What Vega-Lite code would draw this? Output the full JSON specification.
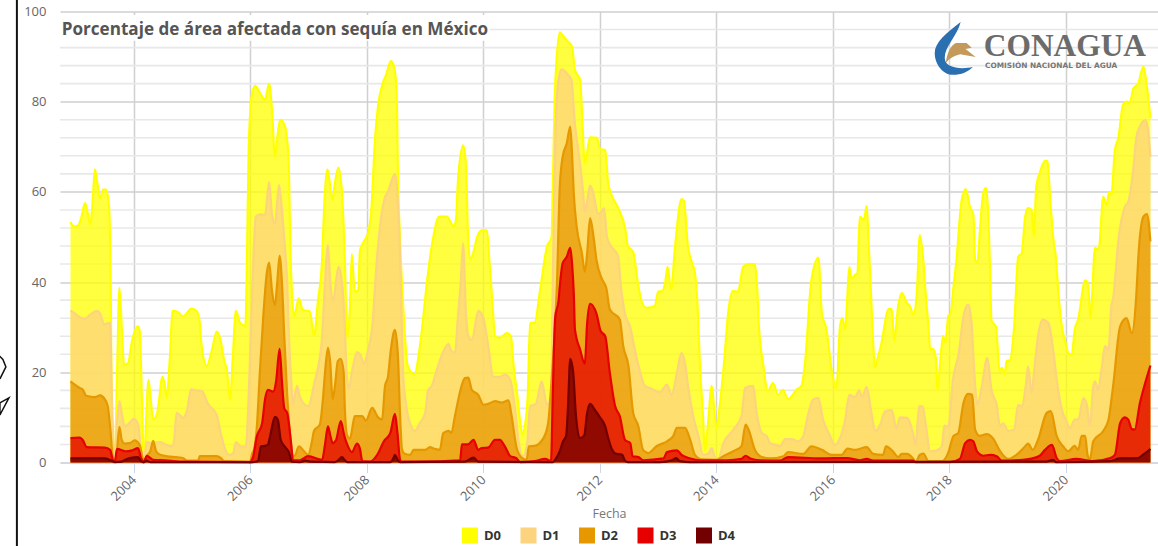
{"$schema":"https://vega.github.io/schema/vega-lite/v6.json","width":1098,"height":451,"autosize":{"type":"none"},"padding":{"left":60,"top":11.5,"right":0,"bottom":83.5},"background":"white","config":{"view":{"stroke":null},"font":"Open Sans"},
"datasets":{
"minor":[{"p":4},{"p":8},{"p":12},{"p":16},{"p":24},{"p":28},{"p":32},{"p":36},{"p":44},{"p":48},{"p":52},{"p":56},{"p":64},{"p":68},{"p":72},{"p":76},{"p":84},{"p":88},{"p":92},{"p":96}],
"D0":[{"f":2002.91,"p":53.3},{"f":2002.97,"p":52.3},{"f":2003.04,"p":52.5},{"f":2003.09,"p":54},{"f":2003.16,"p":57.5},{"f":2003.21,"p":55},{"f":2003.25,"p":52.8},{"f":2003.28,"p":56},{"f":2003.33,"p":65},{"f":2003.37,"p":62},{"f":2003.42,"p":58.5},{"f":2003.47,"p":60.5},{"f":2003.52,"p":60.5},{"f":2003.57,"p":57},{"f":2003.6,"p":40},{"f":2003.62,"p":10},{"f":2003.67,"p":0.8},{"f":2003.71,"p":20},{"f":2003.75,"p":38.7},{"f":2003.79,"p":30},{"f":2003.83,"p":21.7},{"f":2003.9,"p":22},{"f":2003.96,"p":26.5},{"f":2004.07,"p":30.2},{"f":2004.1,"p":29},{"f":2004.14,"p":12},{"f":2004.17,"p":0.5},{"f":2004.25,"p":18.3},{"f":2004.28,"p":15},{"f":2004.33,"p":9.5},{"f":2004.4,"p":11},{"f":2004.49,"p":19},{"f":2004.53,"p":17},{"f":2004.56,"p":14.3},{"f":2004.62,"p":24},{"f":2004.66,"p":33.6},{"f":2004.76,"p":33.3},{"f":2004.84,"p":32.4},{"f":2004.99,"p":34.1},{"f":2005.08,"p":33.5},{"f":2005.13,"p":31},{"f":2005.16,"p":26},{"f":2005.25,"p":21.4},{"f":2005.34,"p":25},{"f":2005.42,"p":29},{"f":2005.48,"p":27.5},{"f":2005.56,"p":22},{"f":2005.59,"p":21},{"f":2005.65,"p":13.8},{"f":2005.7,"p":24},{"f":2005.75,"p":33.6},{"f":2005.82,"p":31},{"f":2005.91,"p":30.3},{"f":2005.92,"p":32},{"f":2005.94,"p":45},{"f":2005.97,"p":70},{"f":2006.03,"p":82},{"f":2006.08,"p":83.5},{"f":2006.16,"p":82},{"f":2006.25,"p":80.4},{"f":2006.32,"p":84},{"f":2006.37,"p":78},{"f":2006.42,"p":67.8},{"f":2006.47,"p":73},{"f":2006.51,"p":76},{"f":2006.58,"p":75},{"f":2006.63,"p":71.5},{"f":2006.66,"p":65},{"f":2006.68,"p":50},{"f":2006.71,"p":38},{"f":2006.75,"p":32.4},{"f":2006.83,"p":36.4},{"f":2006.9,"p":33.8},{"f":2007.02,"p":33.5},{"f":2007.09,"p":28.1},{"f":2007.16,"p":36},{"f":2007.23,"p":45},{"f":2007.26,"p":55},{"f":2007.32,"p":65},{"f":2007.41,"p":58.2},{"f":2007.45,"p":62},{"f":2007.51,"p":65.4},{"f":2007.57,"p":60},{"f":2007.62,"p":45},{"f":2007.66,"p":27.6},{"f":2007.71,"p":35},{"f":2007.74,"p":46.2},{"f":2007.79,"p":38},{"f":2007.85,"p":38},{"f":2007.88,"p":47},{"f":2007.93,"p":48.6},{"f":2008.02,"p":51},{"f":2008.07,"p":55},{"f":2008.14,"p":72},{"f":2008.19,"p":79},{"f":2008.27,"p":84},{"f":2008.33,"p":86},{"f":2008.41,"p":89},{"f":2008.46,"p":88},{"f":2008.51,"p":82},{"f":2008.53,"p":65},{"f":2008.57,"p":48.6},{"f":2008.62,"p":35},{"f":2008.7,"p":21.4},{"f":2008.82,"p":19.5},{"f":2008.88,"p":23},{"f":2008.94,"p":29},{"f":2009.03,"p":40},{"f":2009.13,"p":49.3},{"f":2009.24,"p":54.5},{"f":2009.37,"p":54.5},{"f":2009.49,"p":52.4},{"f":2009.53,"p":54},{"f":2009.56,"p":62},{"f":2009.65,"p":70.3},{"f":2009.7,"p":66},{"f":2009.73,"p":52},{"f":2009.77,"p":45},{"f":2009.83,"p":46.7},{"f":2009.89,"p":50},{"f":2009.97,"p":51.5},{"f":2010.06,"p":51.5},{"f":2010.1,"p":45},{"f":2010.15,"p":36},{"f":2010.2,"p":28},{"f":2010.28,"p":27.6},{"f":2010.4,"p":28.7},{"f":2010.47,"p":28},{"f":2010.52,"p":21},{"f":2010.58,"p":15},{"f":2010.63,"p":9},{"f":2010.67,"p":6.2},{"f":2010.71,"p":8},{"f":2010.76,"p":15},{"f":2010.8,"p":30.9},{"f":2010.88,"p":31},{"f":2010.97,"p":38},{"f":2011.09,"p":47.8},{"f":2011.17,"p":50},{"f":2011.19,"p":61},{"f":2011.23,"p":83.3},{"f":2011.31,"p":95.4},{"f":2011.37,"p":94.5},{"f":2011.45,"p":93.3},{"f":2011.52,"p":92.2},{"f":2011.57,"p":87},{"f":2011.66,"p":84.8},{"f":2011.69,"p":78},{"f":2011.74,"p":66.2},{"f":2011.83,"p":72.1},{"f":2011.95,"p":72},{"f":2012,"p":69.5},{"f":2012.09,"p":69.3},{"f":2012.14,"p":62},{"f":2012.2,"p":59.3},{"f":2012.31,"p":56.5},{"f":2012.43,"p":52},{"f":2012.48,"p":48},{"f":2012.57,"p":46.7},{"f":2012.65,"p":39.8},{"f":2012.72,"p":35.5},{"f":2012.8,"p":34.3},{"f":2012.94,"p":34.7},{"f":2013,"p":37.9},{"f":2013.07,"p":38},{"f":2013.12,"p":40},{"f":2013.16,"p":43.4},{"f":2013.22,"p":38.3},{"f":2013.29,"p":48},{"f":2013.4,"p":58.4},{"f":2013.44,"p":58},{"f":2013.51,"p":48},{"f":2013.58,"p":44.2},{"f":2013.63,"p":42},{"f":2013.67,"p":36},{"f":2013.72,"p":20.6},{"f":2013.77,"p":10},{"f":2013.8,"p":2.5},{"f":2013.85,"p":8},{"f":2013.92,"p":17},{"f":2013.96,"p":12},{"f":2014,"p":7.6},{"f":2014.06,"p":13},{"f":2014.13,"p":22},{"f":2014.2,"p":33},{"f":2014.28,"p":38},{"f":2014.37,"p":37.9},{"f":2014.46,"p":43.4},{"f":2014.55,"p":44},{"f":2014.66,"p":44},{"f":2014.7,"p":38.5},{"f":2014.73,"p":30},{"f":2014.8,"p":22},{"f":2014.88,"p":15.8},{"f":2014.97,"p":17.6},{"f":2015.06,"p":15},{"f":2015.14,"p":16.1},{"f":2015.23,"p":14},{"f":2015.38,"p":16.2},{"f":2015.46,"p":17},{"f":2015.52,"p":22},{"f":2015.63,"p":40.5},{"f":2015.75,"p":45.4},{"f":2015.81,"p":33},{"f":2015.89,"p":29.4},{"f":2015.98,"p":20.3},{"f":2016.06,"p":16.5},{"f":2016.12,"p":30},{"f":2016.16,"p":32},{"f":2016.21,"p":29.4},{"f":2016.24,"p":35},{"f":2016.28,"p":43.4},{"f":2016.32,"p":40.8},{"f":2016.38,"p":41.6},{"f":2016.42,"p":42},{"f":2016.46,"p":54.5},{"f":2016.53,"p":53.8},{"f":2016.58,"p":56.9},{"f":2016.61,"p":49.3},{"f":2016.64,"p":41.2},{"f":2016.68,"p":29.4},{"f":2016.72,"p":21},{"f":2016.77,"p":23.2},{"f":2016.84,"p":26.9},{"f":2016.88,"p":30},{"f":2016.95,"p":34},{"f":2017.01,"p":34},{"f":2017.05,"p":27},{"f":2017.12,"p":34.7},{"f":2017.18,"p":37.6},{"f":2017.27,"p":35.4},{"f":2017.32,"p":34.7},{"f":2017.38,"p":32.8},{"f":2017.44,"p":37.6},{"f":2017.49,"p":50.4},{"f":2017.55,"p":44.9},{"f":2017.59,"p":37.6},{"f":2017.64,"p":30},{"f":2017.67,"p":25},{"f":2017.72,"p":25.2},{"f":2017.77,"p":22.8},{"f":2017.79,"p":15.8},{"f":2017.84,"p":22},{"f":2017.89,"p":28},{"f":2017.93,"p":26.5},{"f":2017.98,"p":32.4},{"f":2018.02,"p":33},{"f":2018.07,"p":39},{"f":2018.12,"p":44.9},{"f":2018.21,"p":58.2},{"f":2018.28,"p":60.6},{"f":2018.35,"p":56.7},{"f":2018.41,"p":54.9},{"f":2018.44,"p":45},{"f":2018.48,"p":44.2},{"f":2018.52,"p":50.9},{"f":2018.58,"p":59.7},{"f":2018.63,"p":60.9},{"f":2018.67,"p":53.8},{"f":2018.7,"p":41.2},{"f":2018.72,"p":31.6},{"f":2018.8,"p":30},{"f":2018.86,"p":20.2},{"f":2018.9,"p":21},{"f":2018.95,"p":19.5},{"f":2018.98,"p":22.5},{"f":2019.04,"p":22.7},{"f":2019.11,"p":30},{"f":2019.18,"p":45.6},{"f":2019.24,"p":46.4},{"f":2019.3,"p":54.5},{"f":2019.35,"p":56.4},{"f":2019.41,"p":56},{"f":2019.45,"p":50},{"f":2019.49,"p":61.1},{"f":2019.55,"p":64.2},{"f":2019.64,"p":66.9},{"f":2019.68,"p":66.9},{"f":2019.73,"p":58.2},{"f":2019.78,"p":50},{"f":2019.83,"p":45},{"f":2019.87,"p":37.6},{"f":2019.93,"p":30},{"f":2019.98,"p":27.2},{"f":2020.04,"p":24.3},{"f":2020.1,"p":23.9},{"f":2020.15,"p":29.4},{"f":2020.21,"p":31.7},{"f":2020.33,"p":40.4},{"f":2020.38,"p":39.5},{"f":2020.42,"p":32},{"f":2020.5,"p":47.6},{"f":2020.54,"p":47.2},{"f":2020.57,"p":47.8},{"f":2020.64,"p":58.9},{"f":2020.7,"p":57},{"f":2020.74,"p":60},{"f":2020.78,"p":59.3},{"f":2020.84,"p":69.3},{"f":2020.9,"p":72},{"f":2020.98,"p":79.3},{"f":2021.04,"p":80},{"f":2021.09,"p":79.6},{"f":2021.16,"p":83},{"f":2021.24,"p":84},{"f":2021.33,"p":87.8},{"f":2021.39,"p":83.3},{"f":2021.45,"p":76.3}],
"D1":[{"f":2002.91,"p":33.7},{"f":2002.99,"p":33},{"f":2003.07,"p":32.2},{"f":2003.16,"p":31.9},{"f":2003.25,"p":32.8},{"f":2003.36,"p":33.6},{"f":2003.42,"p":33},{"f":2003.49,"p":30.6},{"f":2003.59,"p":31},{"f":2003.62,"p":15},{"f":2003.67,"p":0.5},{"f":2003.71,"p":9},{"f":2003.75,"p":13.6},{"f":2003.79,"p":11},{"f":2003.84,"p":8},{"f":2003.9,"p":8.5},{"f":2004,"p":9.7},{"f":2004.07,"p":8.5},{"f":2004.12,"p":3},{"f":2004.17,"p":0.5},{"f":2004.22,"p":4.6},{"f":2004.28,"p":4.3},{"f":2004.45,"p":4.5},{"f":2004.58,"p":3.8},{"f":2004.65,"p":3.6},{"f":2004.69,"p":5},{"f":2004.73,"p":11},{"f":2004.79,"p":10.5},{"f":2004.84,"p":9.9},{"f":2004.91,"p":11.5},{"f":2004.98,"p":16.2},{"f":2005.08,"p":16},{"f":2005.17,"p":15.8},{"f":2005.27,"p":13},{"f":2005.42,"p":10.6},{"f":2005.48,"p":7},{"f":2005.55,"p":3.6},{"f":2005.63,"p":1.7},{"f":2005.7,"p":2},{"f":2005.75,"p":4.5},{"f":2005.84,"p":3.5},{"f":2005.92,"p":3.5},{"f":2005.97,"p":15},{"f":2006.03,"p":38},{"f":2006.09,"p":54.5},{"f":2006.16,"p":55},{"f":2006.25,"p":54.9},{"f":2006.32,"p":62.2},{"f":2006.37,"p":55},{"f":2006.42,"p":53},{"f":2006.49,"p":61.5},{"f":2006.54,"p":56},{"f":2006.59,"p":48},{"f":2006.63,"p":40},{"f":2006.66,"p":28},{"f":2006.7,"p":18},{"f":2006.73,"p":13.2},{"f":2006.8,"p":17},{"f":2006.85,"p":14.5},{"f":2006.99,"p":12.5},{"f":2007.11,"p":18.4},{"f":2007.16,"p":21},{"f":2007.23,"p":28},{"f":2007.28,"p":40},{"f":2007.33,"p":48.2},{"f":2007.37,"p":40},{"f":2007.42,"p":36},{"f":2007.51,"p":43.4},{"f":2007.57,"p":40},{"f":2007.62,"p":30},{"f":2007.65,"p":20},{"f":2007.69,"p":16.5},{"f":2007.74,"p":20},{"f":2007.83,"p":24.5},{"f":2007.88,"p":24},{"f":2007.95,"p":22},{"f":2008.02,"p":25},{"f":2008.09,"p":30},{"f":2008.17,"p":45},{"f":2008.24,"p":54},{"f":2008.31,"p":58.9},{"f":2008.36,"p":60},{"f":2008.41,"p":62},{"f":2008.48,"p":64},{"f":2008.53,"p":58},{"f":2008.57,"p":45},{"f":2008.62,"p":20},{"f":2008.67,"p":13},{"f":2008.76,"p":8},{"f":2008.82,"p":7},{"f":2008.91,"p":8.8},{"f":2009,"p":11},{"f":2009.05,"p":16.1},{"f":2009.11,"p":16.9},{"f":2009.2,"p":20.6},{"f":2009.29,"p":24},{"f":2009.4,"p":26.3},{"f":2009.44,"p":25},{"f":2009.51,"p":24.3},{"f":2009.56,"p":32},{"f":2009.61,"p":40},{"f":2009.65,"p":48.6},{"f":2009.7,"p":33},{"f":2009.74,"p":28},{"f":2009.8,"p":27.2},{"f":2009.91,"p":33.6},{"f":2010,"p":32},{"f":2010.08,"p":26},{"f":2010.17,"p":19},{"f":2010.28,"p":19},{"f":2010.37,"p":19.5},{"f":2010.46,"p":18.3},{"f":2010.54,"p":12},{"f":2010.6,"p":5},{"f":2010.64,"p":2},{"f":2010.68,"p":1.4},{"f":2010.75,"p":4},{"f":2010.8,"p":12.5},{"f":2010.9,"p":13},{"f":2011,"p":18},{"f":2011.09,"p":12.8},{"f":2011.16,"p":15},{"f":2011.19,"p":40},{"f":2011.23,"p":70},{"f":2011.28,"p":84},{"f":2011.34,"p":87.2},{"f":2011.45,"p":86},{"f":2011.51,"p":84.8},{"f":2011.57,"p":75},{"f":2011.62,"p":70},{"f":2011.66,"p":66},{"f":2011.71,"p":60},{"f":2011.74,"p":55.6},{"f":2011.78,"p":58},{"f":2011.83,"p":61.4},{"f":2011.88,"p":60},{"f":2011.97,"p":55.2},{"f":2012.02,"p":55.5},{"f":2012.07,"p":56.4},{"f":2012.12,"p":50},{"f":2012.19,"p":48},{"f":2012.31,"p":45.8},{"f":2012.36,"p":39},{"f":2012.43,"p":33},{"f":2012.52,"p":30},{"f":2012.6,"p":25},{"f":2012.69,"p":20},{"f":2012.77,"p":17},{"f":2012.86,"p":16.5},{"f":2013.03,"p":15.6},{"f":2013.15,"p":17.3},{"f":2013.23,"p":15},{"f":2013.32,"p":19.8},{"f":2013.4,"p":24.3},{"f":2013.46,"p":22},{"f":2013.52,"p":16.2},{"f":2013.6,"p":10.3},{"f":2013.69,"p":5.9},{"f":2013.77,"p":1.7},{"f":2013.86,"p":2},{"f":2013.92,"p":3.2},{"f":2013.97,"p":1.2},{"f":2014.03,"p":0.8},{"f":2014.12,"p":4.3},{"f":2014.29,"p":7.3},{"f":2014.43,"p":10.3},{"f":2014.49,"p":16.5},{"f":2014.63,"p":17},{"f":2014.69,"p":11},{"f":2014.78,"p":6.5},{"f":2014.86,"p":5.9},{"f":2014.92,"p":4.3},{"f":2015.03,"p":3.9},{"f":2015.09,"p":3.6},{"f":2015.18,"p":5.2},{"f":2015.29,"p":5.2},{"f":2015.4,"p":4.7},{"f":2015.49,"p":5.9},{"f":2015.58,"p":11},{"f":2015.66,"p":14},{"f":2015.75,"p":14.3},{"f":2015.83,"p":9.5},{"f":2015.95,"p":5.9},{"f":2016.03,"p":3.9},{"f":2016.12,"p":5.4},{"f":2016.21,"p":9.5},{"f":2016.28,"p":15},{"f":2016.38,"p":14.5},{"f":2016.45,"p":16},{"f":2016.5,"p":14.6},{"f":2016.58,"p":16.7},{"f":2016.66,"p":11},{"f":2016.73,"p":7},{"f":2016.82,"p":8.7},{"f":2016.89,"p":11.3},{"f":2017.01,"p":11.6},{"f":2017.09,"p":7.6},{"f":2017.15,"p":10},{"f":2017.27,"p":9.9},{"f":2017.38,"p":6.2},{"f":2017.42,"p":4},{"f":2017.48,"p":12.5},{"f":2017.54,"p":12.4},{"f":2017.59,"p":8.7},{"f":2017.67,"p":2.5},{"f":2017.78,"p":2.7},{"f":2017.87,"p":3.6},{"f":2017.91,"p":8.2},{"f":2017.98,"p":8},{"f":2018.06,"p":18.4},{"f":2018.16,"p":24.3},{"f":2018.24,"p":32.4},{"f":2018.32,"p":35},{"f":2018.38,"p":30.9},{"f":2018.42,"p":21.4},{"f":2018.48,"p":12.8},{"f":2018.55,"p":16.5},{"f":2018.65,"p":23.2},{"f":2018.72,"p":16.2},{"f":2018.81,"p":12.8},{"f":2018.87,"p":8},{"f":2018.92,"p":8.7},{"f":2019.01,"p":7},{"f":2019.11,"p":7.3},{"f":2019.18,"p":12.8},{"f":2019.24,"p":12.5},{"f":2019.31,"p":17},{"f":2019.35,"p":21.3},{"f":2019.41,"p":15.4},{"f":2019.45,"p":19.8},{"f":2019.52,"p":28},{"f":2019.6,"p":31.7},{"f":2019.7,"p":30.9},{"f":2019.78,"p":25},{"f":2019.85,"p":17.6},{"f":2019.93,"p":11.7},{"f":2020.01,"p":9.2},{"f":2020.07,"p":7.6},{"f":2020.15,"p":9.5},{"f":2020.21,"p":9.5},{"f":2020.3,"p":14.3},{"f":2020.36,"p":12.8},{"f":2020.41,"p":8.1},{"f":2020.47,"p":17},{"f":2020.5,"p":18},{"f":2020.55,"p":16.1},{"f":2020.61,"p":20.6},{"f":2020.67,"p":25.8},{"f":2020.73,"p":25},{"f":2020.78,"p":34.7},{"f":2020.81,"p":36.4},{"f":2020.9,"p":49.3},{"f":2021.01,"p":56.7},{"f":2021.07,"p":57.8},{"f":2021.16,"p":65.6},{"f":2021.21,"p":72.2},{"f":2021.27,"p":74.5},{"f":2021.36,"p":75.9},{"f":2021.41,"p":73.7},{"f":2021.45,"p":67.8}],
"D2":[{"f":2002.91,"p":18},{"f":2002.99,"p":17.2},{"f":2003.07,"p":16.5},{"f":2003.12,"p":16.2},{"f":2003.18,"p":14.8},{"f":2003.33,"p":14.5},{"f":2003.42,"p":14.9},{"f":2003.5,"p":14},{"f":2003.55,"p":12.5},{"f":2003.59,"p":8},{"f":2003.64,"p":1},{"f":2003.67,"p":0.3},{"f":2003.71,"p":3},{"f":2003.75,"p":7.9},{"f":2003.79,"p":5},{"f":2003.84,"p":4.2},{"f":2003.93,"p":4.3},{"f":2004.01,"p":4.9},{"f":2004.1,"p":3.8},{"f":2004.14,"p":1.5},{"f":2004.17,"p":0.3},{"f":2004.22,"p":1.5},{"f":2004.28,"p":2.5},{"f":2004.33,"p":4.8},{"f":2004.38,"p":2.5},{"f":2004.45,"p":1.7},{"f":2004.62,"p":1.3},{"f":2004.84,"p":1},{"f":2004.91,"p":0.4},{"f":2005.1,"p":0.4},{"f":2005.13,"p":1.4},{"f":2005.42,"p":1.4},{"f":2005.49,"p":1},{"f":2005.55,"p":0.3},{"f":2005.99,"p":0.2},{"f":2006.03,"p":2},{"f":2006.06,"p":2.8},{"f":2006.11,"p":8},{"f":2006.16,"p":19.8},{"f":2006.22,"p":32.4},{"f":2006.28,"p":42},{"f":2006.32,"p":44.3},{"f":2006.37,"p":38},{"f":2006.42,"p":34.9},{"f":2006.46,"p":40},{"f":2006.5,"p":45.8},{"f":2006.54,"p":40},{"f":2006.58,"p":28},{"f":2006.63,"p":15},{"f":2006.68,"p":6},{"f":2006.72,"p":1.5},{"f":2006.76,"p":1.5},{"f":2006.83,"p":3.6},{"f":2006.92,"p":2.5},{"f":2006.99,"p":1.7},{"f":2007.06,"p":5},{"f":2007.09,"p":7},{"f":2007.19,"p":8.4},{"f":2007.25,"p":15},{"f":2007.28,"p":20},{"f":2007.33,"p":25.4},{"f":2007.37,"p":22},{"f":2007.41,"p":14},{"f":2007.45,"p":17},{"f":2007.5,"p":22.5},{"f":2007.55,"p":23},{"f":2007.6,"p":20},{"f":2007.62,"p":12},{"f":2007.66,"p":6},{"f":2007.71,"p":5.3},{"f":2007.74,"p":7},{"f":2007.79,"p":10.3},{"f":2007.92,"p":10.3},{"f":2007.98,"p":9.3},{"f":2008.09,"p":12.1},{"f":2008.19,"p":10},{"f":2008.26,"p":9.5},{"f":2008.31,"p":17},{"f":2008.36,"p":19},{"f":2008.41,"p":25},{"f":2008.48,"p":29.4},{"f":2008.53,"p":24},{"f":2008.57,"p":10},{"f":2008.6,"p":3},{"f":2008.64,"p":2},{"f":2008.74,"p":1.7},{"f":2008.8,"p":2.8},{"f":2008.91,"p":2.8},{"f":2009,"p":2.8},{"f":2009.08,"p":3.4},{"f":2009.17,"p":3},{"f":2009.25,"p":2.8},{"f":2009.31,"p":6.5},{"f":2009.4,"p":7},{"f":2009.45,"p":6.6},{"f":2009.51,"p":10.3},{"f":2009.6,"p":15.8},{"f":2009.68,"p":18.7},{"f":2009.74,"p":18.8},{"f":2009.8,"p":16.1},{"f":2009.91,"p":15},{"f":2010,"p":12.8},{"f":2010.08,"p":13},{"f":2010.2,"p":13.6},{"f":2010.31,"p":13.3},{"f":2010.43,"p":13.8},{"f":2010.48,"p":10.6},{"f":2010.57,"p":3.2},{"f":2010.66,"p":1},{"f":2010.74,"p":0.6},{"f":2010.78,"p":3.6},{"f":2010.88,"p":3.7},{"f":2011.03,"p":5.4},{"f":2011.11,"p":8.7},{"f":2011.17,"p":18.4},{"f":2011.26,"p":39},{"f":2011.31,"p":61},{"f":2011.36,"p":67.8},{"f":2011.43,"p":70.8},{"f":2011.49,"p":74.5},{"f":2011.52,"p":68.5},{"f":2011.55,"p":59.7},{"f":2011.6,"p":52.3},{"f":2011.69,"p":46.4},{"f":2011.74,"p":42.3},{"f":2011.78,"p":46.4},{"f":2011.83,"p":54.2},{"f":2011.89,"p":50},{"f":2011.94,"p":44.9},{"f":2012.03,"p":40.8},{"f":2012.11,"p":38.6},{"f":2012.17,"p":33.9},{"f":2012.34,"p":31.7},{"f":2012.4,"p":25.8},{"f":2012.49,"p":21.3},{"f":2012.57,"p":11},{"f":2012.66,"p":8},{"f":2012.74,"p":2.8},{"f":2012.83,"p":2.1},{"f":2012.97,"p":3.6},{"f":2013.15,"p":4.7},{"f":2013.26,"p":5.9},{"f":2013.32,"p":7.7},{"f":2013.46,"p":7.7},{"f":2013.55,"p":5},{"f":2013.63,"p":1.7},{"f":2013.75,"p":0.7},{"f":2014,"p":0.6},{"f":2014.12,"p":1.4},{"f":2014.29,"p":2.5},{"f":2014.43,"p":3.6},{"f":2014.5,"p":8.4},{"f":2014.55,"p":7.3},{"f":2014.66,"p":2.8},{"f":2014.75,"p":1.4},{"f":2014.92,"p":0.9},{"f":2015.15,"p":1.4},{"f":2015.23,"p":2.3},{"f":2015.49,"p":1.9},{"f":2015.63,"p":3.6},{"f":2015.81,"p":2.8},{"f":2015.98,"p":1.7},{"f":2016.15,"p":1.7},{"f":2016.25,"p":3.1},{"f":2016.38,"p":2.8},{"f":2016.58,"p":3.4},{"f":2016.69,"p":1.9},{"f":2016.86,"p":1.7},{"f":2016.91,"p":3.6},{"f":2017.04,"p":2.3},{"f":2017.12,"p":1.2},{"f":2017.18,"p":1.9},{"f":2017.27,"p":1.9},{"f":2017.38,"p":0.8},{"f":2017.42,"p":0.1},{"f":2017.49,"p":1.7},{"f":2017.55,"p":2},{"f":2017.64,"p":0.3},{"f":2017.87,"p":0.3},{"f":2017.98,"p":2.2},{"f":2018.07,"p":5.9},{"f":2018.15,"p":6.5},{"f":2018.24,"p":13.2},{"f":2018.32,"p":15.2},{"f":2018.39,"p":15},{"f":2018.44,"p":7.3},{"f":2018.52,"p":5.9},{"f":2018.64,"p":6.3},{"f":2018.75,"p":5.3},{"f":2018.87,"p":2.5},{"f":2019.01,"p":0.8},{"f":2019.15,"p":1.7},{"f":2019.3,"p":3.6},{"f":2019.35,"p":4.2},{"f":2019.43,"p":2.8},{"f":2019.52,"p":5},{"f":2019.67,"p":11},{"f":2019.74,"p":11.4},{"f":2019.84,"p":5.9},{"f":2019.95,"p":3.6},{"f":2020.04,"p":2.5},{"f":2020.15,"p":3.7},{"f":2020.21,"p":2.8},{"f":2020.27,"p":5.9},{"f":2020.33,"p":5.9},{"f":2020.37,"p":1.7},{"f":2020.41,"p":0.7},{"f":2020.47,"p":4.7},{"f":2020.64,"p":7},{"f":2020.73,"p":9.5},{"f":2020.81,"p":17},{"f":2020.93,"p":30.2},{"f":2021.04,"p":32},{"f":2021.13,"p":28.7},{"f":2021.21,"p":37.6},{"f":2021.24,"p":45},{"f":2021.33,"p":54.5},{"f":2021.39,"p":55.1},{"f":2021.45,"p":49}],
"D3":[{"f":2002.91,"p":5.4},{"f":2003.07,"p":5.5},{"f":2003.12,"p":5},{"f":2003.19,"p":3.4},{"f":2003.5,"p":3.3},{"f":2003.59,"p":2.8},{"f":2003.64,"p":0.5},{"f":2003.67,"p":0.2},{"f":2003.71,"p":3},{"f":2003.85,"p":2.5},{"f":2003.97,"p":2.7},{"f":2004.07,"p":3.2},{"f":2004.12,"p":1},{"f":2004.17,"p":0.2},{"f":2004.22,"p":1.5},{"f":2004.33,"p":0.6},{"f":2004.53,"p":0.5},{"f":2004.79,"p":0.2},{"f":2005.99,"p":0.1},{"f":2006.04,"p":1},{"f":2006.11,"p":5.8},{"f":2006.2,"p":8.7},{"f":2006.25,"p":14},{"f":2006.3,"p":16.1},{"f":2006.39,"p":15.7},{"f":2006.44,"p":18},{"f":2006.5,"p":25.2},{"f":2006.54,"p":18},{"f":2006.58,"p":12},{"f":2006.63,"p":11},{"f":2006.7,"p":4},{"f":2006.73,"p":0.5},{"f":2006.85,"p":0.5},{"f":2006.99,"p":1.4},{"f":2007.23,"p":0.6},{"f":2007.28,"p":4},{"f":2007.33,"p":8},{"f":2007.37,"p":6},{"f":2007.41,"p":4.3},{"f":2007.47,"p":5},{"f":2007.55,"p":9.2},{"f":2007.61,"p":6},{"f":2007.66,"p":4},{"f":2007.74,"p":2.3},{"f":2007.83,"p":4.2},{"f":2007.88,"p":3},{"f":2007.92,"p":0.3},{"f":2008.05,"p":0.2},{"f":2008.19,"p":2},{"f":2008.29,"p":4.7},{"f":2008.4,"p":6.5},{"f":2008.48,"p":10.8},{"f":2008.52,"p":7},{"f":2008.57,"p":0.5},{"f":2008.6,"p":0.2},{"f":2008.91,"p":0.2},{"f":2009.6,"p":0.5},{"f":2009.63,"p":4},{"f":2009.73,"p":4},{"f":2009.83,"p":5},{"f":2009.91,"p":2.8},{"f":2009.97,"p":3.2},{"f":2010.08,"p":3.3},{"f":2010.2,"p":5},{"f":2010.28,"p":5},{"f":2010.37,"p":3.5},{"f":2010.46,"p":1.4},{"f":2010.56,"p":1},{"f":2010.63,"p":0.1},{"f":2010.88,"p":0.3},{"f":2011.06,"p":0.8},{"f":2011.16,"p":0.3},{"f":2011.19,"p":15},{"f":2011.23,"p":32},{"f":2011.29,"p":36},{"f":2011.31,"p":39},{"f":2011.36,"p":44.2},{"f":2011.43,"p":45.6},{"f":2011.49,"p":47.6},{"f":2011.52,"p":44.2},{"f":2011.55,"p":37.6},{"f":2011.57,"p":29.5},{"f":2011.66,"p":25},{"f":2011.74,"p":21.9},{"f":2011.78,"p":30.9},{"f":2011.83,"p":35.2},{"f":2011.94,"p":33},{"f":2012.01,"p":29.2},{"f":2012.09,"p":28},{"f":2012.17,"p":19.8},{"f":2012.26,"p":12.5},{"f":2012.34,"p":10.3},{"f":2012.43,"p":5},{"f":2012.52,"p":4.3},{"f":2012.56,"p":1.4},{"f":2012.66,"p":1.2},{"f":2012.74,"p":0.5},{"f":2013.09,"p":0.9},{"f":2013.15,"p":2.3},{"f":2013.32,"p":2.7},{"f":2013.4,"p":1.7},{"f":2013.55,"p":0.9},{"f":2013.72,"p":0.5},{"f":2014.18,"p":0.5},{"f":2014.43,"p":0.8},{"f":2014.5,"p":1.5},{"f":2014.58,"p":0.9},{"f":2014.75,"p":0.5},{"f":2015.09,"p":0.4},{"f":2015.23,"p":1.2},{"f":2015.78,"p":0.9},{"f":2016.24,"p":1},{"f":2016.46,"p":0.5},{"f":2016.58,"p":0.8},{"f":2016.69,"p":0.4},{"f":2017.37,"p":0.4},{"f":2017.42,"p":0.1},{"f":2018.01,"p":0.1},{"f":2018.18,"p":0.8},{"f":2018.27,"p":4.3},{"f":2018.35,"p":5},{"f":2018.41,"p":4.7},{"f":2018.47,"p":2.5},{"f":2018.58,"p":1.5},{"f":2018.7,"p":1.7},{"f":2018.81,"p":1.4},{"f":2018.9,"p":0.4},{"f":2019.26,"p":0.6},{"f":2019.38,"p":0.8},{"f":2019.55,"p":1.5},{"f":2019.64,"p":2.8},{"f":2019.76,"p":3.9},{"f":2019.84,"p":1},{"f":2019.9,"p":0.3},{"f":2020.18,"p":0.8},{"f":2020.46,"p":0.3},{"f":2020.76,"p":1},{"f":2020.84,"p":1.7},{"f":2020.93,"p":8.7},{"f":2021.01,"p":10},{"f":2021.07,"p":9.5},{"f":2021.13,"p":7.4},{"f":2021.18,"p":7.3},{"f":2021.27,"p":13.2},{"f":2021.36,"p":17.6},{"f":2021.45,"p":21.5}],
"D4":[{"f":2002.91,"p":0.9},{"f":2003.5,"p":0.9},{"f":2003.62,"p":0.4},{"f":2003.67,"p":0.1},{"f":2003.79,"p":0.2},{"f":2003.85,"p":0.6},{"f":2003.97,"p":1.1},{"f":2004.07,"p":1.2},{"f":2004.12,"p":0.3},{"f":2004.17,"p":0.05},{"f":2004.21,"p":0.4},{"f":2004.28,"p":0.1},{"f":2005.99,"p":0.05},{"f":2006.13,"p":0.3},{"f":2006.18,"p":3.6},{"f":2006.25,"p":3.7},{"f":2006.3,"p":4},{"f":2006.34,"p":6},{"f":2006.42,"p":10.1},{"f":2006.47,"p":9.5},{"f":2006.52,"p":5},{"f":2006.59,"p":3.5},{"f":2006.66,"p":2.3},{"f":2006.71,"p":0.2},{"f":2006.85,"p":0.1},{"f":2006.94,"p":0.4},{"f":2007.02,"p":0.2},{"f":2007.45,"p":0.1},{"f":2007.5,"p":0.4},{"f":2007.57,"p":1.2},{"f":2007.62,"p":0.5},{"f":2007.66,"p":0.1},{"f":2008.4,"p":0.1},{"f":2008.45,"p":0.8},{"f":2008.48,"p":1.7},{"f":2008.53,"p":0.5},{"f":2008.57,"p":0.1},{"f":2009.68,"p":0.2},{"f":2009.83,"p":1.1},{"f":2009.91,"p":0.2},{"f":2011.19,"p":0.1},{"f":2011.25,"p":1},{"f":2011.31,"p":2.5},{"f":2011.36,"p":4.5},{"f":2011.42,"p":6},{"f":2011.45,"p":12},{"f":2011.49,"p":23},{"f":2011.54,"p":20},{"f":2011.59,"p":10},{"f":2011.66,"p":5.4},{"f":2011.73,"p":6},{"f":2011.78,"p":11},{"f":2011.83,"p":13},{"f":2011.91,"p":11.7},{"f":2012,"p":10},{"f":2012.09,"p":8},{"f":2012.14,"p":5.5},{"f":2012.21,"p":2.8},{"f":2012.26,"p":2},{"f":2012.38,"p":1.7},{"f":2012.43,"p":0.4},{"f":2012.48,"p":0.1},{"f":2013.03,"p":0.1},{"f":2013.24,"p":0.5},{"f":2013.31,"p":1},{"f":2013.37,"p":0.3},{"f":2013.55,"p":0.1},{"f":2019.66,"p":0.2},{"f":2019.78,"p":0.6},{"f":2019.83,"p":0.1},{"f":2020.76,"p":0.3},{"f":2020.93,"p":0.9},{"f":2021.1,"p":0.9},{"f":2021.24,"p":1},{"f":2021.32,"p":1.7},{"f":2021.45,"p":3}]
},
"layer":[
{"data":{"name":"minor"},"mark":{"type":"rule","color":"#e8e8e8","strokeWidth":1.6},"encoding":{"y":{"field":"p","type":"quantitative","scale":{"domain":[0,100],"nice":false},"axis":{"values":[0,20,40,60,80,100],"title":null,"grid":true,"gridColor":"#cfcfcf","gridWidth":1.5,"domain":false,"ticks":false,"labelFont":"Open Sans","labelFontSize":13,"labelColor":"#666666","labelPadding":14}}}},
{"data":{"values":[{"f0":2002.73,"f1":2010.11,"p0":99.2,"p1":93.5}]},"mark":{"type":"rect","color":"white"},"encoding":{"x":{"field":"f0","type":"quantitative","scale":{"domain":[2002.73,2021.58],"nice":false,"zero":false},"axis":{"values":[2004,2006,2008,2010,2012,2014,2016,2018,2020],"format":"d","title":"Fecha","grid":true,"gridColor":"#d0d0d0","gridWidth":1.5,"domainColor":"#ccd6eb","tickColor":"#ccd6eb","tickSize":10,"labelAngle":-45,"labelAlign":"right","labelBaseline":"middle","labelFont":"Open Sans","labelFontSize":13,"labelColor":"#666666","labelPadding":5,"titleFont":"Open Sans","titleFontWeight":"normal","titleFontSize":12.5,"titleColor":"#777777","titlePadding":4}},"x2":{"field":"f1"},"y":{"field":"p0","type":"quantitative"},"y2":{"field":"p1"}}},
{"data":{"name":"D0"},"mark":{"type":"area","interpolate":"monotone","fillOpacity":0.75,"line":{"strokeWidth":2.2}},"encoding":{"x":{"field":"f","type":"quantitative"},"y":{"field":"p","type":"quantitative"},"color":{"datum":"D0","type":"nominal","scale":{"domain":["D0","D1","D2","D3","D4"],"range":["#FFFF00","#FCD37F","#E69800","#E60000","#730000"]},"legend":{"title":null,"orient":"none","legendX":402,"legendY":516,"direction":"horizontal","columns":5,"symbolType":"square","symbolSize":256,"symbolOpacity":1,"symbolStrokeWidth":0,"labelFont":"Open Sans","labelFontWeight":"bold","labelFontSize":13,"labelColor":"#333333","columnPadding":18.5,"labelOffset":6}}}},
{"data":{"name":"D1"},"mark":{"type":"area","interpolate":"monotone","fillOpacity":0.75,"line":{"strokeWidth":2.2}},"encoding":{"x":{"field":"f","type":"quantitative"},"y":{"field":"p","type":"quantitative"},"color":{"datum":"D1","type":"nominal"}}},
{"data":{"name":"D2"},"mark":{"type":"area","interpolate":"monotone","fillOpacity":0.75,"line":{"strokeWidth":2.2}},"encoding":{"x":{"field":"f","type":"quantitative"},"y":{"field":"p","type":"quantitative"},"color":{"datum":"D2","type":"nominal"}}},
{"data":{"name":"D3"},"mark":{"type":"area","interpolate":"monotone","fillOpacity":0.75,"line":{"strokeWidth":2.2}},"encoding":{"x":{"field":"f","type":"quantitative"},"y":{"field":"p","type":"quantitative"},"color":{"datum":"D3","type":"nominal"}}},
{"data":{"name":"D4"},"mark":{"type":"area","interpolate":"monotone","fillOpacity":0.75,"line":{"strokeWidth":2.2}},"encoding":{"x":{"field":"f","type":"quantitative"},"y":{"field":"p","type":"quantitative"},"color":{"datum":"D4","type":"nominal"}}},
{"data":{"values":[{"f":2002.76,"p":94.7,"t":"Porcentaje de área afectada con sequía en México"}]},"mark":{"type":"text","align":"left","baseline":"alphabetic","font":"Open Sans","fontWeight":"bold","fontSize":17.1,"color":"#555555"},"encoding":{"x":{"field":"f","type":"quantitative"},"y":{"field":"p","type":"quantitative"},"text":{"field":"t"}}},
{"data":{"values":[{"f":2018.59,"p":90.2,"t":"CONAGUA"}]},"mark":{"type":"text","align":"left","baseline":"alphabetic","font":"Liberation Serif","fontWeight":"bold","fontSize":31.4,"color":"#6b6b6b"},"encoding":{"x":{"field":"f","type":"quantitative"},"y":{"field":"p","type":"quantitative"},"text":{"field":"t"}}},
{"data":{"values":[{"f":2018.61,"p":87.5,"t":"COMISIÓN NACIONAL DEL AGUA"}]},"mark":{"type":"text","align":"left","baseline":"alphabetic","font":"DejaVu Sans","fontWeight":"bold","fontSize":7.4,"color":"#777777"},"encoding":{"x":{"field":"f","type":"quantitative"},"y":{"field":"p","type":"quantitative"},"text":{"field":"t"}}},
{"data":{"values":[{"f":2018.09,"p":91.7}]},"mark":{"type":"point","filled":true,"opacity":1,"size":2916,"color":"#2a6fb0","shape":"M.22 -1 C-.3 -.6 -.74 -.25 -.74 .15 C-.74 .6 -.4 .96 -.07 .96 C.25 .96 .5 .85 .67 .67 C.3 .75 -.37 .75 -.37 .33 C-.37 -.1 .1 -.5 .22 -1Z"},"encoding":{"x":{"field":"f","type":"quantitative"},"y":{"field":"p","type":"quantitative"}}},
{"data":{"values":[{"f":2018.09,"p":91.7}]},"mark":{"type":"point","filled":true,"opacity":1,"size":2916,"color":"#c49a5c","shape":"M-.33 .52 C-.3 .2 -.15 -.15 .05 -.22 L.44 -.22 L.63 -.04 L.4 0 L.78 .3 L.2 .2 C0 .25 -.2 .35 -.33 .52Z"},"encoding":{"x":{"field":"f","type":"quantitative"},"y":{"field":"p","type":"quantitative"}}},
{"data":{"values":[{"f":2001.99,"p":102.6,"p2":-18.6}]},"mark":{"type":"rule","color":"#111111","strokeWidth":2},"encoding":{"x":{"field":"f","type":"quantitative"},"y":{"field":"p","type":"quantitative"},"y2":{"field":"p2"}}},
{"data":{"values":[{"f":2001.75,"p":17.2}]},"mark":{"type":"point","filled":false,"opacity":1,"size":3600,"color":"#111111","strokeWidth":1.5,"shape":"M-.15 -1 L0 -.85 L.1 -.6 L0 -.4 L-.1 -.2 M.2 .43 L-.1 .6 L-.1 1 Z"},"encoding":{"x":{"field":"f","type":"quantitative"},"y":{"field":"p","type":"quantitative"}}}
]}
